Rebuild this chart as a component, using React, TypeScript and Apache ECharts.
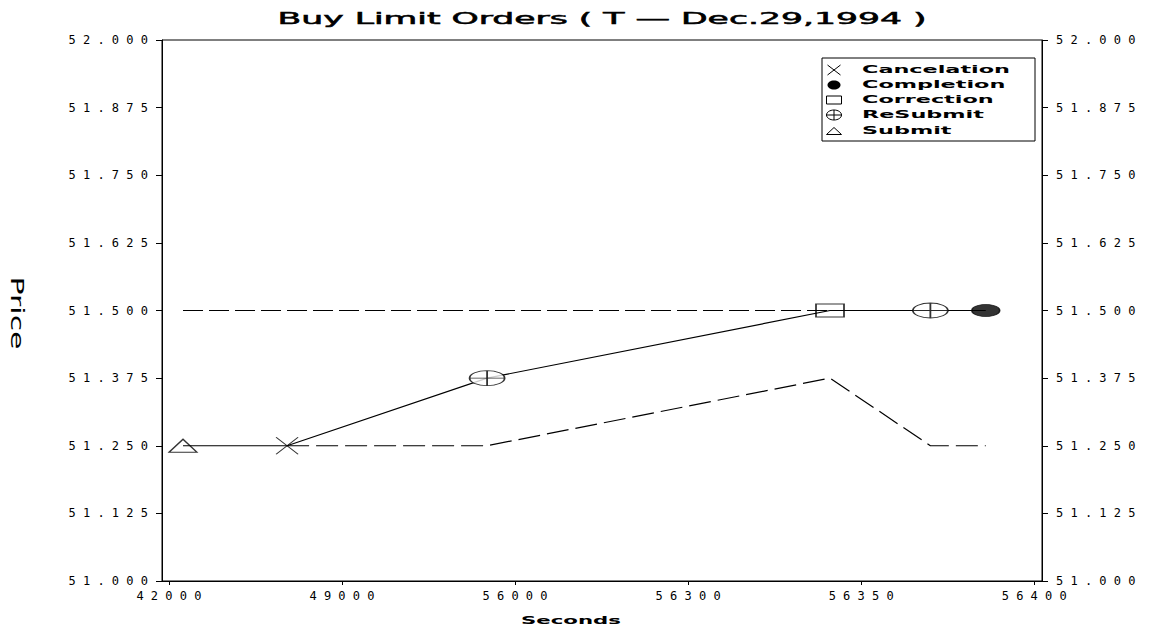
import React, { useEffect, useRef } from "react";
import * as echarts from "echarts";

// ---- data ----
const X_TICK_SECONDS = [42000, 49000, 56000, 56300, 56350, 56400];
const Y_MIN = 51;
const Y_MAX = 52;
const Y_STEP = 0.125;

const EVENT_NAMES = ["Cancelation", "Completion", "Correction", "ReSubmit", "Submit"];

const orderSeconds = [42570, 46780, 54870, 56341, 56370, 56386];
const orderPrice = [51.25, 51.25, 51.375, 51.5, 51.5, 51.5];

const upperSeconds = [42570, 56341];
const upperPrice = [51.5, 51.5];

const lowerSeconds = [46780, 54870, 56341, 56370, 56386];
const lowerPrice = [51.25, 51.25, 51.375, 51.25, 51.25];

const submitSeconds = [42570];
const submitPrice = [51.25];
const cancelSeconds = [46780];
const cancelPrice = [51.25];
const resubmitSeconds = [54870, 56370];
const resubmitPrice = [51.375, 51.5];
const correctionSeconds = [56341];
const correctionPrice = [51.5];
const completionSeconds = [56386];
const completionPrice = [51.5];

const TITLE = "Buy Limit Orders ( T \u2014 Dec.29,1994 )";
const X_NAME = "Seconds";
const Y_NAME = "Price";

// ---- helpers ----
function secToPos(s: number): number {
  const t = X_TICK_SECONDS;
  if (s <= t[0]) return 0;
  for (let i = 0; i < t.length - 1; i++) {
    if (s <= t[i + 1]) return i + (s - t[i]) / (t[i + 1] - t[i]);
  }
  return t.length - 1;
}
const pts = (xs: number[], ys: number[]) => xs.map((s, i) => [secToPos(s), ys[i]]);
const spaced = (s: string) => s.split("").join(" ");

function measure(text: string, font: string): number {
  const c = document.createElement("canvas").getContext("2d");
  if (!c) return text.length * 8;
  c.font = font;
  return c.measureText(text).width;
}

const SYM_X = "path://M0,0 L10,10 M10,0 L0,10";
const SYM_TRI = "path://M0,10 L5,0 L10,10 Z";
const SYM_RESUB =
  "path://M0,5 C0,2.24 2.24,0 5,0 C7.76,0 10,2.24 10,5 C10,7.76 7.76,10 5,10 C2.24,10 0,7.76 0,5 Z M5,0 L5,10 M0,5 L10,5";

export default function App() {
  const ref = useRef<HTMLDivElement>(null);
  useEffect(() => {
    if (!ref.current) return;
    const chart = echarts.init(ref.current, null, { renderer: "svg" });

    const fam = "DejaVu Sans";
    const titleFont = `15px "${fam}"`;
    const titleScale = 649 / measure(TITLE, titleFont);

    const legFont = `bold 10px "${fam}"`;
    const legScale = 148 / measure("Cancelation", legFont);

    const nameFont = `bold 11px "${fam}"`;
    const secScale = 100 / measure(X_NAME, nameFont);
    const priceFont = `17px "${fam}"`;
    const priceScale = 73 / measure(Y_NAME, priceFont);

    const stroke = { stroke: "#000", lineWidth: 1, fill: "none" };
    const legendRows = [70, 85, 100, 115, 131];
    const ix = 834;

    const legendText = (name: string, y: number) => ({
      type: "text",
      x: 862,
      y,
      scaleX: legScale,
      style: {
        text: name,
        fontSize: 10,
        fontWeight: "bold",
        fontFamily: fam,
        fill: "#000",
        align: "left",
        verticalAlign: "middle",
      },
    });

    const axisLabelStyle = {
      color: "#000",
      fontFamily: "DejaVu Sans Mono",
      fontSize: 12,
    };

    const yAxisBase = {
      type: "value",
      min: Y_MIN,
      max: Y_MAX,
      interval: Y_STEP,
      splitLine: { show: false },
      axisLine: { show: true, onZero: false, lineStyle: { color: "#000", width: 1 } },
      axisTick: { show: true, inside: false, length: 6, lineStyle: { color: "#000" } },
      axisLabel: {
        ...axisLabelStyle,
        margin: 14,
        formatter: (v: number) => spaced(v.toFixed(3)),
      },
    };

    const xIdx = X_TICK_SECONDS.map((_, i) => i);

    chart.setOption({
      animation: false,
      backgroundColor: "#fff",
      grid: {
        left: 162,
        right: 115,
        top: 40,
        bottom: 61,
        show: true,
        borderColor: "#000",
        borderWidth: 1,
        backgroundColor: "transparent",
      },
      xAxis: {
        type: "value",
        min: -0.04,
        max: 5.045,
        splitLine: { show: false },
        axisLine: { show: true, onZero: false, lineStyle: { color: "#000", width: 1 } },
        axisTick: {
          show: true,
          inside: false,
          length: 4,
          customValues: xIdx,
          lineStyle: { color: "#000" },
        },
        axisLabel: {
          ...axisLabelStyle,
          margin: 9,
          customValues: xIdx,
          formatter: (v: number) => {
            const i = Math.round(v);
            return spaced(String(X_TICK_SECONDS[i] ?? ""));
          },
        },
      },
      yAxis: [
        { ...yAxisBase, position: "left" },
        { ...yAxisBase, position: "right" },
      ],
      series: [
        {
          name: "order",
          type: "line",
          data: pts(orderSeconds, orderPrice),
          symbol: "none",
          lineStyle: { color: "#000", width: 1.2, type: "solid" },
          z: 2,
        },
        {
          name: "upper",
          type: "line",
          data: pts(upperSeconds, upperPrice),
          symbol: "none",
          lineStyle: { color: "#000", width: 1.2, type: [20, 6] },
          z: 2,
        },
        {
          name: "lower",
          type: "line",
          data: pts(lowerSeconds, lowerPrice),
          symbol: "none",
          lineStyle: { color: "#000", width: 1.2, type: [22, 7] },
          z: 2,
        },
        {
          name: EVENT_NAMES[0],
          type: "scatter",
          data: pts(cancelSeconds, cancelPrice),
          symbol: SYM_X,
          symbolSize: [22, 17],
          itemStyle: { color: "rgba(0,0,0,0)", borderColor: "#000", borderWidth: 1.2 },
          z: 3,
        },
        {
          name: EVENT_NAMES[1],
          type: "scatter",
          data: pts(completionSeconds, completionPrice),
          symbol: "circle",
          symbolSize: [28, 12],
          itemStyle: { color: "#000", borderColor: "#000", borderWidth: 1 },
          z: 3,
        },
        {
          name: EVENT_NAMES[2],
          type: "scatter",
          data: pts(correctionSeconds, correctionPrice),
          symbol: "rect",
          symbolSize: [28, 13],
          itemStyle: { color: "rgba(0,0,0,0)", borderColor: "#000", borderWidth: 1.2 },
          z: 3,
        },
        {
          name: EVENT_NAMES[3],
          type: "scatter",
          data: pts(resubmitSeconds, resubmitPrice),
          symbol: SYM_RESUB,
          symbolSize: [35, 15],
          itemStyle: { color: "#fff", borderColor: "#000", borderWidth: 1.2 },
          z: 3,
        },
        {
          name: EVENT_NAMES[4],
          type: "scatter",
          data: pts(submitSeconds, submitPrice),
          symbol: SYM_TRI,
          symbolSize: [28, 13],
          itemStyle: { color: "rgba(0,0,0,0)", borderColor: "#000", borderWidth: 1.2 },
          z: 3,
        },
      ],
      graphic: [
        {
          type: "text",
          x: 602,
          y: 19,
          scaleX: titleScale,
          style: {
            text: TITLE,
            fontSize: 15,
            fontFamily: fam,
            fill: "#000",
            stroke: "#000",
            lineWidth: 0.5,
            align: "center",
            verticalAlign: "middle",
          },
        },
        {
          type: "text",
          x: 571,
          y: 620,
          scaleX: secScale,
          style: {
            text: X_NAME,
            fontSize: 11,
            fontWeight: "bold",
            fontFamily: fam,
            fill: "#000",
            align: "center",
            verticalAlign: "middle",
          },
        },
        {
          type: "text",
          x: 17,
          y: 313,
          rotation: -Math.PI / 2,
          scaleX: priceScale,
          style: {
            text: Y_NAME,
            fontSize: 17,
            fontFamily: fam,
            fill: "#000",
            align: "center",
            verticalAlign: "middle",
          },
        },
        {
          type: "group",
          z: 10,
          children: [
            {
              type: "rect",
              shape: { x: 822, y: 58, width: 213, height: 83 },
              style: { fill: "#fff", stroke: "#000", lineWidth: 1 },
            },
            // Cancelation icon
            { type: "line", shape: { x1: ix - 6.5, y1: legendRows[0] - 5, x2: ix + 6.5, y2: legendRows[0] + 5 }, style: stroke },
            { type: "line", shape: { x1: ix + 6.5, y1: legendRows[0] - 5, x2: ix - 6.5, y2: legendRows[0] + 5 }, style: stroke },
            // Completion icon
            { type: "ellipse", shape: { cx: ix, cy: legendRows[1], rx: 6.5, ry: 4.5 }, style: { fill: "#000" } },
            // Correction icon
            { type: "rect", shape: { x: ix - 7.5, y: legendRows[2] - 4, width: 15, height: 8 }, style: stroke },
            // ReSubmit icon
            { type: "ellipse", shape: { cx: ix, cy: legendRows[3], rx: 7.5, ry: 5 }, style: stroke },
            { type: "line", shape: { x1: ix - 7.5, y1: legendRows[3], x2: ix + 7.5, y2: legendRows[3] }, style: stroke },
            { type: "line", shape: { x1: ix, y1: legendRows[3] - 5, x2: ix, y2: legendRows[3] + 5 }, style: stroke },
            // Submit icon
            {
              type: "polygon",
              shape: { points: [[ix - 7.5, legendRows[4] + 3.5], [ix, legendRows[4] - 3.5], [ix + 7.5, legendRows[4] + 3.5]] },
              style: stroke,
            },
            ...EVENT_NAMES.map((n, i) => legendText(n, legendRows[i])),
          ],
        },
      ],
    });

    return () => chart.dispose();
  }, []);

  return (
    <div
      ref={ref}
      style={{ position: "fixed", left: 0, top: 0, width: 1157, height: 642, background: "#fff" }}
    />
  );
}
